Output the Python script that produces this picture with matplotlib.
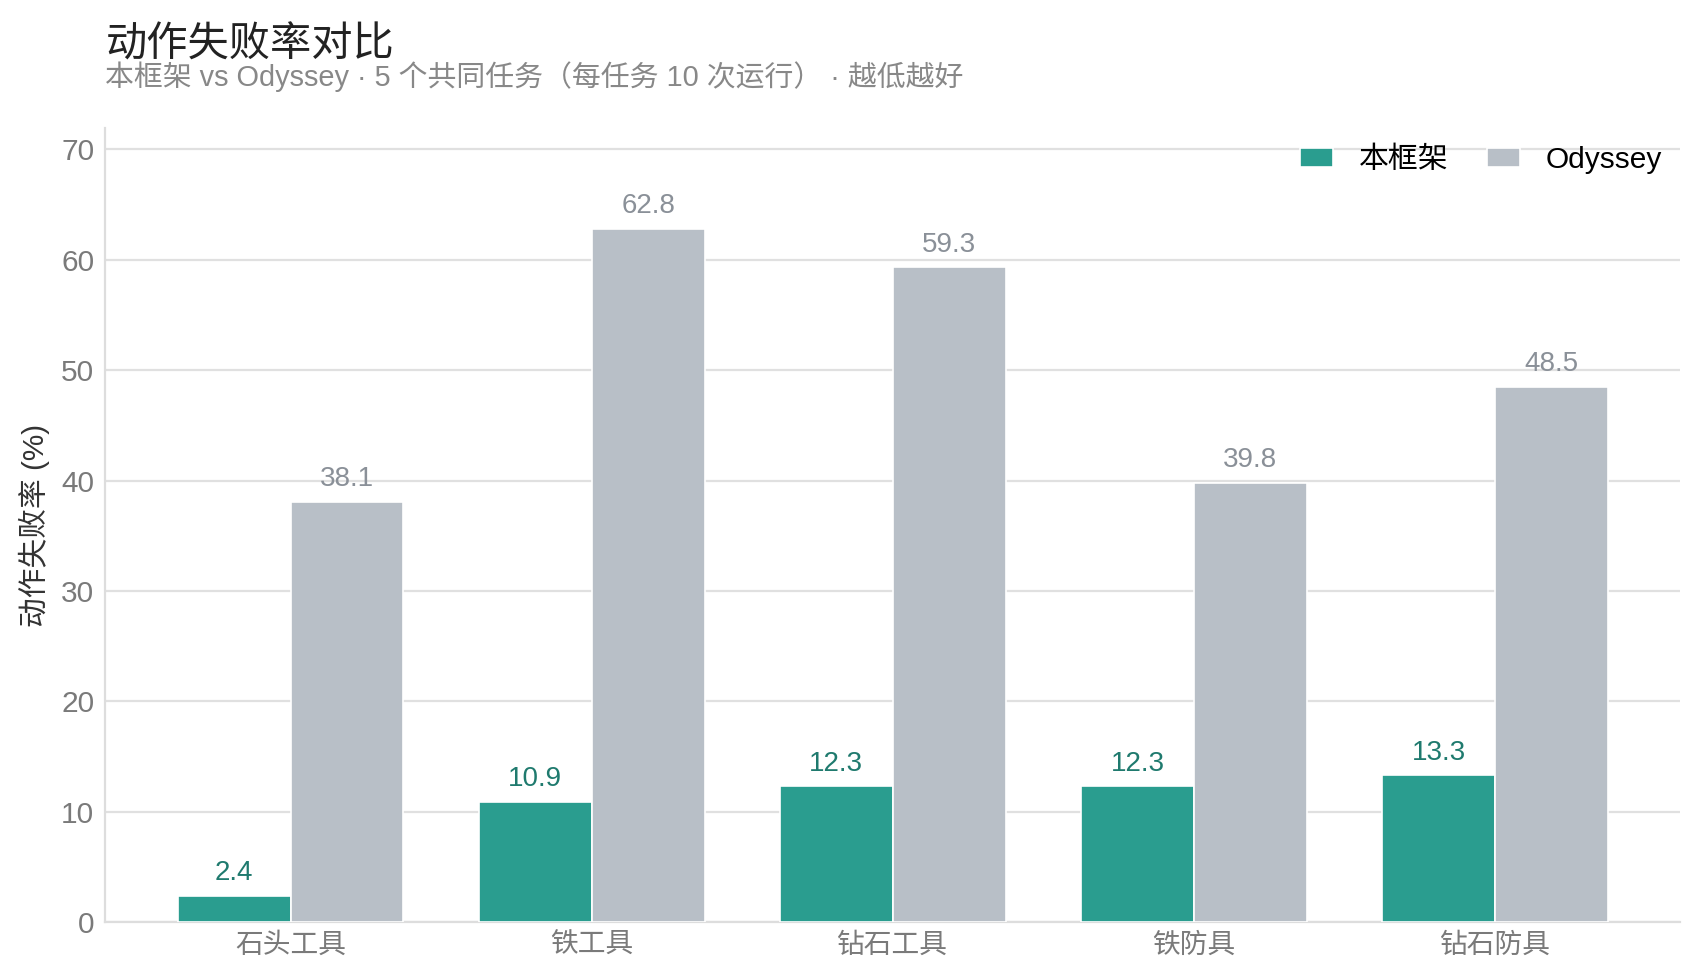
import matplotlib.pyplot as plt
import numpy as np

plt.rcParams['font.family'] = ['Liberation Sans', 'Noto Sans CJK SC', 'DejaVu Sans']

categories = ["石头工具", "铁工具", "钻石工具", "铁防具", "钻石防具"]
ours = [2.4, 10.9, 12.3, 12.3, 13.3]
odyssey = [38.1, 62.8, 59.3, 39.8, 48.5]
series_names = ["本框架", "Odyssey"]

teal = "#2a9d8f"
grey = "#b8bfc7"
teal_text = "#1f7a6e"
grey_text = "#8a9098"

fig = plt.figure(figsize=(16.99, 9.8), dpi=100)
ax = fig.add_axes([0.062, 0.059, 0.927, 0.81])

x = np.arange(len(categories))
w = 0.375
b1 = ax.bar(x - w / 2, ours, w, color=teal, edgecolor="white", linewidth=1.2, label=series_names[0], zorder=3)
b2 = ax.bar(x + w / 2, odyssey, w, color=grey, edgecolor="white", linewidth=1.2, label=series_names[1], zorder=3)

# value labels above each bar
for bars, vals, c in [(b1, ours, teal_text), (b2, odyssey, grey_text)]:
    for r, v in zip(bars, vals):
        ax.annotate(f"{v:.1f}", (r.get_x() + r.get_width() / 2, v), xytext=(0, 7),
                    textcoords="offset points", ha="center", va="bottom", fontsize=20, color=c)

ax.set_xlim(-0.615, len(categories) - 1 + 0.615)
ax.set_ylim(0, 71.9)
ax.set_yticks(range(0, 71, 10))
ax.set_xticks(x)
ax.set_xticklabels(categories)
ax.tick_params(axis="both", length=0, colors="#7a7a7a", pad=8)
ax.tick_params(axis="x", labelsize=20)
ax.tick_params(axis="y", labelsize=21.5)
ax.set_ylabel("动作失败率 (%)", fontsize=21.4, color="#333333", labelpad=8)
ax.yaxis.grid(True, color="#e0e0e0", linewidth=1.6, zorder=0)
ax.set_axisbelow(True)
for s in ["top", "right"]:
    ax.spines[s].set_visible(False)
for s in ["left", "bottom"]:
    ax.spines[s].set_color("#dddddd")
    ax.spines[s].set_linewidth(1.6)

ax.legend(loc="upper right", ncol=2, frameon=False, fontsize=21.5, handlelength=1.1,
          handleheight=0.58, handletextpad=0.87, columnspacing=1.3, borderaxespad=0.2)

fig.text(0.062, 0.954, "动作失败率对比", fontsize=29.7, color="#222222", va="center")
fig.text(0.062, 0.922, "本框架 vs Odyssey · 5 个共同任务（每任务 10 次运行） · 越低越好",
         fontsize=20.8, color="#888888", va="center")

fig.savefig("out.png", dpi=100, facecolor="white")
